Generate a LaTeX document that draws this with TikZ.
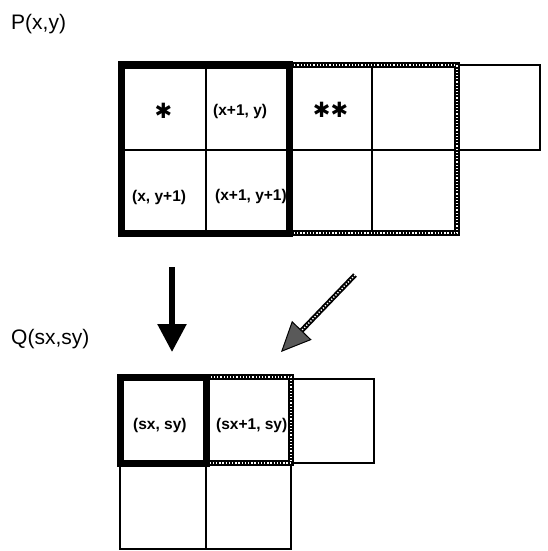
\documentclass[tikz,border=0pt]{standalone}
\usepackage{fontspec}
\setmainfont{Liberation Sans}
\newfontfamily\symbolfont{DejaVu Sans}
\usetikzlibrary{arrows.meta}

\tikzset{
  cell/.style={draw, line width=2pt, inner sep=0pt, outer sep=0pt},
  heavy/.style={draw=black, line width=7pt, line join=miter},
  hatch/.style={draw=black, line width=6.5pt, line join=miter,
    postaction={draw=white, line width=1.7pt, dash pattern=on 1.3pt off 1.9pt}},
  lbl/.style={font=\fontsize{15.5}{18}\selectfont\bfseries, inner sep=0pt, anchor=west},
  starmark/.style={font=\symbolfont\fontsize{21}{22}\selectfont, inner sep=0pt},
  title/.style={font=\fontsize{21}{24}\selectfont, inner sep=0pt, anchor=base west},
  blackarrow/.style={draw=black, line width=5.5pt,
    -{Triangle[length=28pt, width=28pt]}},
  grayarrow/.style={draw=black, line width=5pt,
    -{Triangle[length=30pt, width=27pt, fill=black!65, line width=1pt]},
    postaction={draw=white, -, line width=1.4pt, dash pattern=on 1.2pt off 1.8pt, shorten >=29pt}},
}

\begin{document}
\begin{tikzpicture}[x=1pt, y=-1pt]
\useasboundingbox (0,0) rectangle (548,551);

% source image P, upper grid
\node[cell, minimum width=85pt, minimum height=85pt] (a1) at (163.5,107.5) {};
\node[cell, minimum width=83pt, minimum height=85pt] (a2) at (247.5,107.5) {};
\node[cell, minimum width=83pt, minimum height=85pt] (a3) at (330.5,107.5) {};
\node[cell, minimum width=85pt, minimum height=85pt] (a4) at (414.5,107.5) {};
\node[cell, minimum width=83pt, minimum height=85pt] (a5) at (498.5,107.5) {};
\node[cell, minimum width=85pt, minimum height=83pt] (b1) at (163.5,191.5) {};
\node[cell, minimum width=83pt, minimum height=83pt] (b2) at (247.5,191.5) {};
\node[cell, minimum width=83pt, minimum height=83pt] (b3) at (330.5,191.5) {};
\node[cell, minimum width=85pt, minimum height=83pt] (b4) at (414.5,191.5) {};

% reduced image Q, lower grid
\node[cell, minimum width=86pt, minimum height=86pt] (c1) at (163,420) {};
\node[cell, minimum width=85pt, minimum height=86pt] (c2) at (248.5,420) {};
\node[cell, minimum width=83pt, minimum height=84pt] (c3) at (332.5,421) {};
\node[cell, minimum width=86pt, minimum height=86pt] (d1) at (163,506) {};
\node[cell, minimum width=85pt, minimum height=86pt] (d2) at (248.5,506) {};

% cell texts
\node[starmark] (s1) at ([yshift=-3pt]a1.center) {✱};
\node[starmark] (s2) at ([yshift=-2.5pt]a3.center) {✱✱};
\node[lbl] (t1) at ([xshift=7pt, yshift=-4pt]a2.west) {(x+1, y)};
\node[lbl] (t2) at ([xshift=11pt, yshift=-6pt]b1.west) {(x, y+1)};
\node[lbl] (t3) at ([xshift=9pt, yshift=-5pt]b2.west) {(x+1, y+1)};
\node[lbl] (t4) at ([xshift=13pt, yshift=-5pt]c1.west) {(sx, sy)};
\node[lbl] (t5) at ([xshift=10pt, yshift=-5pt]c2.west) {(sx+1, sy)};

% 2x2 windows
\draw[hatch] (a3.north west) rectangle (b4.south east);
\draw[heavy] (a1.north west) rectangle (b2.south east);
\draw[hatch] (c2.north west) rectangle (c2.south east);
\draw[heavy] (c1.north west) rectangle (c1.south east);

% titles
\node[title] (p) at (11,30) {P(x,y)};
\node[title] (q) at (11,344) {Q(sx,sy)};

% arrows
\coordinate (k1) at (172,267);
\coordinate (k2) at (172,352);
\draw[blackarrow] (k1) -- (k2);
\coordinate (g1) at (355,275);
\coordinate (g2) at (281,352);
\draw[grayarrow] (g1) -- (g2);
\end{tikzpicture}
\end{document}
